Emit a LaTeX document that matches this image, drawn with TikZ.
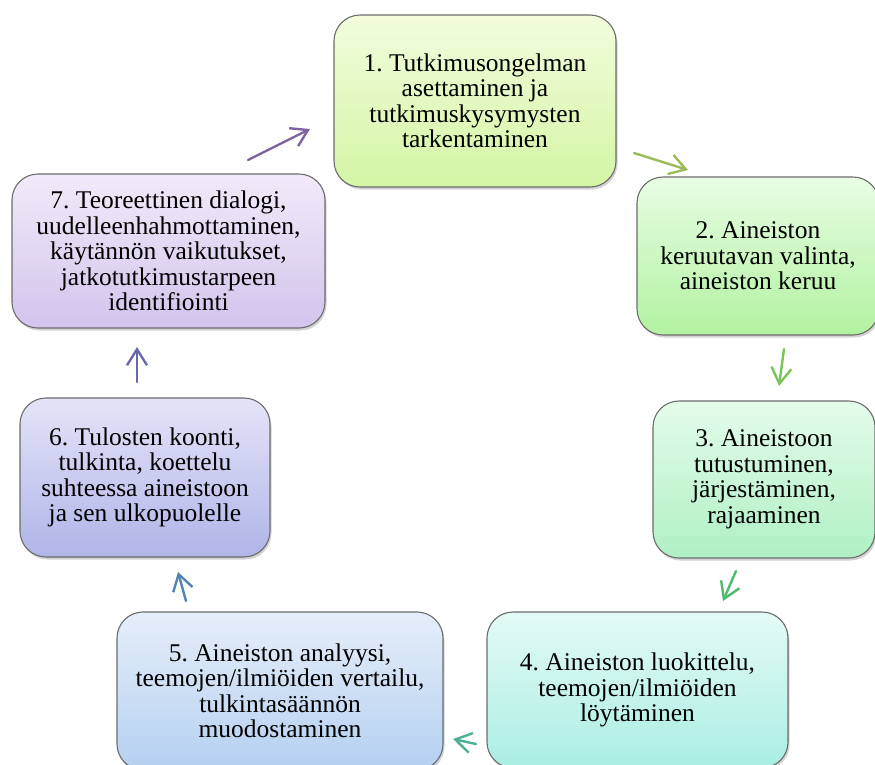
\documentclass[tikz,border=0pt]{standalone}
\usepackage{fontspec}
\setmainfont{Liberation Serif}
\usetikzlibrary{arrows.meta,shadows}
\frenchspacing

% Gradient colours of the seven phases (top and bottom).
\definecolor{v1a}{RGB}{242,253,220}
\definecolor{v1b}{RGB}{212,245,165}
\definecolor{v2a}{RGB}{232,253,228}
\definecolor{v2b}{RGB}{178,242,160}
\definecolor{v3a}{RGB}{228,252,235}
\definecolor{v3b}{RGB}{175,240,195}
\definecolor{v4a}{RGB}{228,250,246}
\definecolor{v4b}{RGB}{170,238,226}
\definecolor{v5a}{RGB}{230,238,250}
\definecolor{v5b}{RGB}{180,208,240}
\definecolor{v6a}{RGB}{228,228,248}
\definecolor{v6b}{RGB}{176,180,232}
\definecolor{v7a}{RGB}{242,234,250}
\definecolor{v7b}{RGB}{210,196,236}

% Arrow colours.
\definecolor{n1}{RGB}{155,187,89}
\definecolor{n2}{RGB}{122,196,92}
\definecolor{n3}{RGB}{80,186,112}
\definecolor{n4}{RGB}{78,175,150}
\definecolor{n5}{RGB}{82,132,182}
\definecolor{n6}{RGB}{104,104,172}
\definecolor{n7}{RGB}{128,100,162}

\begin{document}
\begin{tikzpicture}[x=1pt,y=-1pt,
    vaihe/.style={draw=gray!85!black, line width=1.1pt, rounded corners=26pt,
      align=center, inner sep=0pt, font=\fontsize{25.5}{25.5}\selectfont,
      drop shadow={shadow xshift=1.5pt, shadow yshift=-2.5pt, opacity=0.35}},
    nuoli/.style={line width=2.4pt, line cap=round,
      -{Straight Barb[length=16pt,width=20pt]}}]

      \useasboundingbox (0,0) rectangle (875,764);

      % The seven phases, clockwise from the top.
      \node[vaihe, top color=v1a, bottom color=v1b,
      minimum width=282pt, minimum height=172pt] (ongelma) at (475,101)
      {1. Tutkimusongelman\\asettaminen ja\\tutkimuskysymysten\\tarkentaminen};

      \node[vaihe, top color=v2a, bottom color=v2b,
      minimum width=242pt, minimum height=158pt] (keruu) at (758,256)
      {2. Aineiston\\keruutavan valinta,\\aineiston keruu};

      \node[vaihe, top color=v3a, bottom color=v3b,
      minimum width=222pt, minimum height=157pt] (tutustuminen) at (764,479.5)
      {3. Aineistoon\\tutustuminen,\\järjestäminen,\\rajaaminen};

      \node[vaihe, top color=v4a, bottom color=v4b,
      minimum width=301pt, minimum height=156pt] (luokittelu) at (637.5,690)
      {4. Aineiston luokittelu,\\teemojen/ilmiöiden\\löytäminen};

      \node[vaihe, top color=v5a, bottom color=v5b,
      minimum width=326pt, minimum height=158pt] (analyysi) at (280,691)
      {5. Aineiston analyysi,\\teemojen/ilmiöiden vertailu,\\tulkintasäännön\\muodostaminen};

      \node[vaihe, top color=v6a, bottom color=v6b,
      minimum width=250pt, minimum height=159pt] (koonti) at (145,477.5)
      {6. Tulosten koonti,\\tulkinta, koettelu\\suhteessa aineistoon\\ja sen ulkopuolelle};

      \node[vaihe, top color=v7a, bottom color=v7b,
      minimum width=313pt, minimum height=154pt] (dialogi) at (168.5,251)
      {7. Teoreettinen dialogi,\\uudelleenhahmottaminen,\\käytännön vaikutukset,\\jatkotutkimustarpeen\\identifiointi};

      % End points of the short arrows between the phases.
      \coordinate (a1) at (634,153);   \coordinate (b1) at (688,170);
      \coordinate (a2) at (784,349);   \coordinate (b2) at (779,386);
      \coordinate (a3) at (736,571);   \coordinate (b3) at (723,601);
      \coordinate (a4) at (476,744);   \coordinate (b4) at (453,739);
      \coordinate (a5) at (186,601);   \coordinate (b5) at (178,572);
      \coordinate (a6) at (137,382);   \coordinate (b6) at (137,347);
      \coordinate (a7) at (248,160);   \coordinate (b7) at (310,129);

      % The cycle arrows.
      \draw[nuoli, n1] (a1) -- (b1);
      \draw[nuoli, n2] (a2) -- (b2);
      \draw[nuoli, n3] (a3) -- (b3);
      \draw[nuoli, n4] (a4) -- (b4);
      \draw[nuoli, n5] (a5) -- (b5);
      \draw[nuoli, n6] (a6) -- (b6);
      \draw[nuoli, n7] (a7) -- (b7);
\end{tikzpicture}
\end{document}
